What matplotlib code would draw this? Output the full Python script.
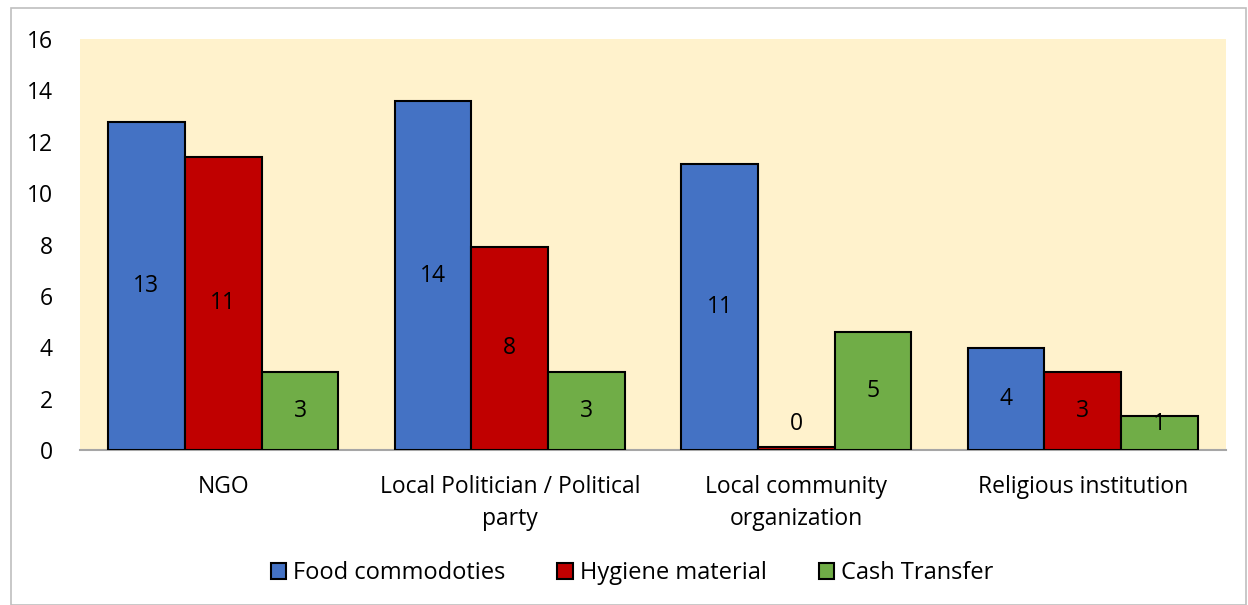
import numpy as np
import matplotlib.pyplot as plt
from matplotlib.patches import Rectangle

plt.rcParams['font.family'] = ['Open Sans', 'DejaVu Sans']

categories = ["NGO", "Local Politician / Political\nparty", "Local community\norganization", "Religious institution"]
series = ["Food commodoties", "Hygiene material", "Cash Transfer"]
food = [12.78, 13.58, 11.15, 3.96]
hygiene = [11.41, 7.91, 0.13, 3.05]
cash = [3.05, 3.05, 4.58, 1.34]
labels_food = [13, 14, 11, 4]
labels_hygiene = [11, 8, 0, 3]
labels_cash = [3, 3, 5, 1]

colors = ['#4472C4', '#C00000', '#70AD47']
fs = 16.5

fig = plt.figure(figsize=(12.48, 6.05), dpi=100)
ax = fig.add_axes([80/1248, 1-450/605, 1146/1248, 411/605])
ax.set_facecolor('#FFF2CC')

x = np.arange(len(categories))
w = 0.268
vals = [food, hygiene, cash]
labs = [labels_food, labels_hygiene, labels_cash]
for i, (v, lb) in enumerate(zip(vals, labs)):
    pos = x + (i - 1) * w
    ax.bar(pos, v, width=w, color=colors[i], edgecolor='black', linewidth=1.5,
           label=series[i], zorder=3)
    for p, h, t in zip(pos, v, lb):
        ax.text(p, max(h / 2, 1.0), str(t), ha='center', va='center', fontsize=fs, zorder=4)

ax.set_xlim(-0.5, len(categories) - 0.5)
ax.set_ylim(0, 16)
ax.set_yticks(range(0, 17, 2))
ax.set_xticks(x)
ax.set_xticklabels(categories, fontsize=fs, linespacing=1.45)
ax.tick_params(axis='y', length=0, labelsize=fs, pad=19.5)
ax.tick_params(axis='x', length=0, pad=18)
for s in ['top', 'right', 'left']:
    ax.spines[s].set_visible(False)
ax.spines['bottom'].set_color('#A6A6A6')
ax.spines['bottom'].set_linewidth(1.5)

fig.legend(loc='center', bbox_to_anchor=(632/1248, 1-573/605), ncol=3, frameon=False,
           fontsize=17, handlelength=0.65, handleheight=0.65, handletextpad=0.3,
           columnspacing=2.2)

fig.patches.append(Rectangle((11/1248, 0), 1235/1248, 1-8/605, transform=fig.transFigure,
                             fill=False, edgecolor='#BFBFBF', linewidth=1.2))

fig.savefig('out.png', dpi=100)
